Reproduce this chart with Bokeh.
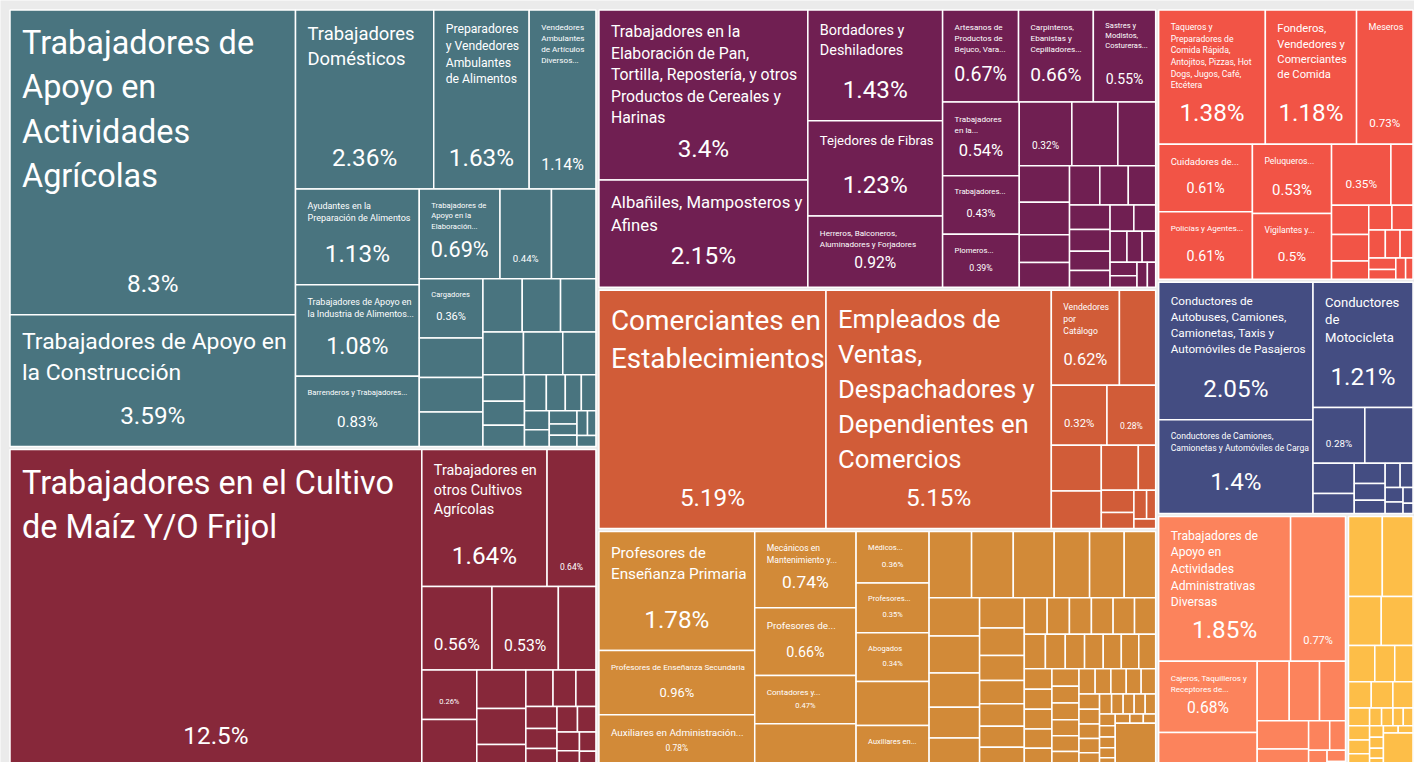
import math
from bokeh.plotting import figure
from bokeh.models import ColumnDataSource, Range1d
from bokeh.core.properties import value
from bokeh.embed import file_html
from bokeh.resources import INLINE

# ----------------------------------------------------------------- data
# Each group: tile names (None = no label, "" = only the percentage) and values (% of total)
TEAL_NAMES = [
    "Trabajadores de Apoyo en Actividades Agrícolas",
    "Trabajadores de Apoyo en la Construcción",
    "Trabajadores Domésticos",
    "Preparadores y Vendedores Ambulantes de Alimentos",
    "Vendedores Ambulantes de Artículos Diversos...",
    "Ayudantes en la Preparación de Alimentos",
    "Trabajadores de Apoyo en la Industria de Alimentos...",
    "Barrenderos y Trabajadores...",
    "Trabajadores de Apoyo en la Elaboración...",
    "",
    None,
    "Cargadores",
]
TEAL_VALUES = [8.3, 3.59, 2.36, 1.63, 1.14, 1.13, 1.08, 0.83, 0.69, 0.44, 0.38, 0.36,
               0.24, 0.21, 0.21, 0.2, 0.195, 0.18, 0.165, 0.16, 0.135, 0.105, 0.095, 0.085,
               0.075, 0.065, 0.055, 0.05, 0.045, 0.04, 0.035, 0.03, 0.03, 0.025, 0.02, 0.02]

MAROON_NAMES = [
    "Trabajadores en el Cultivo de Maíz Y/O Frijol",
    "Trabajadores en otros Cultivos Agrícolas",
    "", "", "", None, "",
]
MAROON_VALUES = [12.5, 1.64, 0.64, 0.56, 0.53, 0.30, 0.26,
                 0.25, 0.18, 0.17, 0.105, 0.095, 0.08, 0.07, 0.065, 0.06, 0.055, 0.05,
                 0.045, 0.04, 0.035, 0.03, 0.025]

PURPLE_NAMES = [
    "Trabajadores en la Elaboración de Pan, Tortilla, Repostería, y otros Productos de Cereales y Harinas",
    "Albañiles, Mamposteros y Afines",
    "Bordadores y Deshiladores",
    "Tejedores de Fibras",
    "Herreros, Balconeros, Aluminadores y Forjadores",
    "Artesanos de Productos de Bejuco, Vara...",
    "Carpinteros, Ebanistas y Cepilladores...",
    "Sastres y Modistos, Costureras...",
    "Trabajadores en la...",
    "Trabajadores...",
    "Plomeros...",
    "",
]
PURPLE_VALUES = [3.4, 2.15, 1.43, 1.23, 0.92, 0.67, 0.66, 0.55, 0.54, 0.43, 0.39, 0.32,
                 0.28, 0.23, 0.176, 0.157, 0.133, 0.12, 0.114, 0.107, 0.103, 0.095, 0.085,
                 0.075, 0.065, 0.06, 0.055, 0.05, 0.045, 0.04, 0.035, 0.03, 0.025, 0.02]

COMMERCE_NAMES = [
    "Comerciantes en Establecimientos",
    "Empleados de Ventas, Despachadores y Dependientes en Comercios",
    "Vendedores por Catálogo",
    None, "", "",
]
COMMERCE_VALUES = [5.19, 5.15, 0.62, 0.33, 0.32, 0.28,
                   0.22, 0.18, 0.16, 0.075, 0.07, 0.05, 0.035, 0.025, 0.02]

MUSTARD_NAMES = [
    "Profesores de Enseñanza Primaria",
    "Profesores de Enseñanza Secundaria",
    "Auxiliares en Administración...",
    "Mecánicos en Mantenimiento y...",
    "Profesores de...",
    "Contadores y...",
    None,
    "Médicos...",
    "Profesores...",
    "Abogados",
    None,
    "Auxiliares en...",
]
MUSTARD_VALUES = [1.78, 0.96, 0.78, 0.74, 0.66, 0.47, 0.42, 0.36, 0.35, 0.34, 0.31, 0.29,
                  0.27, 0.265, 0.26, 0.225, 0.22, 0.2,
                  0.185, 0.18, 0.165, 0.15, 0.14,
                  0.13, 0.118, 0.107, 0.1, 0.096, 0.09, 0.085,
                  0.08, 0.078, 0.077, 0.076, 0.075, 0.074,
                  0.07, 0.066, 0.064, 0.062, 0.06, 0.058, 0.056,
                  0.054, 0.053, 0.052, 0.051, 0.05,
                  0.045, 0.044, 0.043, 0.042, 0.041, 0.04,
                  0.039, 0.038, 0.037, 0.036, 0.035,
                  0.03, 0.029, 0.029, 0.028, 0.028,
                  0.023, 0.022, 0.021, 0.021, 0.02,
                  0.018, 0.017, 0.016, 0.015, 0.014, 0.013, 0.012, 0.011,
                  0.17]

RED_NAMES = [
    "Taqueros y Preparadores de Comida Rápida, Antojitos, Pizzas, Hot Dogs, Jugos, Café, Etcétera",
    "Fonderos, Vendedores y Comerciantes de Comida",
    "Meseros",
    "Cuidadores de...",
    "Policías y Agentes...",
    "Peluqueros...",
    "Vigilantes y...",
    "",
]
RED_VALUES = [1.38, 1.18, 0.73, 0.61, 0.61, 0.53, 0.5, 0.35,
              0.13, 0.105, 0.095, 0.065, 0.055, 0.05, 0.045, 0.04, 0.035, 0.03, 0.025, 0.02, 0.015]

NAVY_NAMES = [
    "Conductores de Autobuses, Camiones, Camionetas, Taxis y Automóviles de Pasajeros",
    "Conductores de Camiones, Camionetas y Automóviles de Carga",
    "Conductores de Motocicleta",
    "",
]
NAVY_VALUES = [2.05, 1.4, 1.21, 0.28, 0.26, 0.12, 0.08, 0.06, 0.05, 0.04, 0.035, 0.03,
               0.025, 0.02, 0.015, 0.01]

SALMON_NAMES = [
    "Trabajadores de Apoyo en Actividades Administrativas Diversas",
    "",
    "Cajeros, Taquilleros y Receptores de...",
    None,
]
SALMON_VALUES = [1.85, 0.77, 0.68, 0.33, 0.185, 0.175, 0.15, 0.14, 0.09, 0.06, 0.045, 0.03,
                 0.02, 0.01]

YELLOW_NAMES = []
YELLOW_VALUES = [0.27, 0.245, 0.16, 0.155, 0.095, 0.072, 0.066, 0.06, 0.057, 0.053, 0.037,
                 0.03, 0.029, 0.028, 0.021, 0.02, 0.018, 0.017, 0.016, 0.015, 0.014,
                 0.012, 0.011, 0.011, 0.1]

GROUPS = [
    (TEAL_NAMES, TEAL_VALUES),
    (MAROON_NAMES, MAROON_VALUES),
    (PURPLE_NAMES, PURPLE_VALUES),
    (COMMERCE_NAMES, COMMERCE_VALUES),
    (MUSTARD_NAMES, MUSTARD_VALUES),
    (RED_NAMES, RED_VALUES),
    (NAVY_NAMES, NAVY_VALUES),
    (SALMON_NAMES, SALMON_VALUES),
    (YELLOW_NAMES, YELLOW_VALUES),
]

# ----------------------------------------------------------------- style
GROUP_COLORS = ["#49747f", "#87283a", "#701f52", "#d15c38", "#d28a38",
                "#f25446", "#444d82", "#fc835c", "#fdbe48"]
BG = "#ebebeb"
FONT = "Roboto"
FONT_SCALE = 0.9       # Roboto is wider than the condensed face of the original
MARGIN = 8
CHART_W, CHART_H = 1406, 760   # the treemap runs slightly past the bottom of the window
VIEW_H = 754
GAP = 1.5
LH = 1.23
PHI = (1 + 5 ** 0.5) / 2


def squarify(values, x0, y0, x1, y1, ratio=PHI):
    """d3.treemapSquarify"""
    rects = [None] * len(values)
    n = len(values)
    i0 = i1 = 0
    total = float(sum(values))
    while i0 < n:
        dx, dy = x1 - x0, y1 - y0
        sumv = values[i1]
        i1 += 1
        minv = maxv = sumv
        alpha = max(dy / dx, dx / dy) / (total * ratio)
        beta = sumv * sumv * alpha
        minr = max(maxv / beta, beta / minv)
        while i1 < n:
            nv = values[i1]
            sumv += nv
            minv = min(minv, nv)
            maxv = max(maxv, nv)
            beta = sumv * sumv * alpha
            newr = max(maxv / beta, beta / minv)
            if newr > minr:
                sumv -= nv
                break
            minr = newr
            i1 += 1
        if dx < dy:
            yy = y0 + dy * sumv / total if i1 < n else y1
            xx = x0
            for k in range(i0, i1):
                w = (x1 - x0) * values[k] / sumv
                rects[k] = (xx, y0, xx + w, yy)
                xx += w
            y0 = yy
        else:
            xx = x0 + dx * sumv / total if i1 < n else x1
            yy = y0
            for k in range(i0, i1):
                h = (y1 - y0) * values[k] / sumv
                rects[k] = (x0, yy, xx, yy + h)
                yy += h
            x0 = xx
        total -= sumv
        i0 = i1
    return rects


# approximate advance widths (1/1000 em) used to wrap the labels
_W = {}
for _c, _w in zip("abcdefghijklmnopqrstuvwxyz",
                  [556, 556, 500, 556, 556, 278, 556, 556, 222, 222, 500, 222, 833,
                   556, 556, 556, 556, 333, 500, 278, 556, 500, 722, 500, 500, 500]):
    _W[_c] = _w
for _c, _w in zip("ABCDEFGHIJKLMNOPQRSTUVWXYZ",
                  [667, 667, 722, 722, 667, 611, 778, 722, 278, 500, 667, 556, 833,
                   722, 778, 667, 778, 722, 667, 611, 722, 667, 944, 667, 667, 611]):
    _W[_c] = _w
for _a, _b in zip("áéíóúñÁÉÍÓÚÑ", "aeiounAEIOUN"):
    _W[_a] = _W[_b]
_W.update({" ": 278, ",": 278, ".": 278, "/": 278, "%": 889})


def measure(s, fs):
    return sum(_W.get(c, 556) for c in s) / 1000.0 * 0.82 * 1.03 * fs


def wrap(text, fs, maxw, force=False):
    lines, cur = [], ""
    for word in text.split():
        if not force and measure(word, fs) > maxw:
            return None
        t = (cur + " " + word) if cur else word
        if measure(t, fs) <= maxw or not cur:
            cur = t
        else:
            lines.append(cur)
            cur = word
    if cur:
        lines.append(cur)
    return lines


def fit_title(text, w, h, avail_h):
    maxw = w - 24
    fs = min(36.0, math.floor(2 * math.sqrt(w * h) / 7.5) / 2)
    while fs >= 8:
        lines = wrap(text, fs, maxw)
        if lines and len(lines) * fs * LH <= avail_h:
            return fs, lines
        fs -= 0.5
    fs = 8.0
    lines = wrap(text, fs, maxw, force=True)
    nmax = max(1, int(avail_h // (fs * LH)))
    if len(lines) > nmax:
        lines = lines[:nmax]
        lines[-1] = lines[-1].rstrip(".,") + "..."
    return fs, lines


def fmt(v):
    return "%s%%" % ("%.3g" % v)


def px(fs):
    return "%.1fpx" % max(7.5, fs * FONT_SCALE)


# ----------------------------------------------------------------- layout
totals = [sum(v) for _, v in GROUPS]
group_rects = squarify(totals, 0, 0, CHART_W, CHART_H)

quad = dict(l=[], r=[], t=[], b=[], c=[])
ttl = dict(x=[], y=[], text=[], fs=[])
val = dict(x=[], y=[], text=[], fs=[])

for (names, values), color, (gx0, gy0, gx1, gy1) in zip(GROUPS, GROUP_COLORS, group_rects):
    rects = squarify(values, gx0 + GAP, gy0 + GAP, gx1 - GAP, gy1 - GAP)
    for i, (v, (x0, y0, x1, y1)) in enumerate(zip(values, rects)):
        quad["l"].append(x0); quad["r"].append(x1)
        quad["t"].append(y0); quad["b"].append(y1)
        quad["c"].append(color)
        name = names[i] if i < len(names) else None
        if name is None:
            continue
        w, h = x1 - x0, y1 - y0
        fsv = None
        if w >= 45 and h >= 45:
            fsv = max(8.0, min(27.0, 0.42 * (h - 30), (w - 28) / 2.2))
            val["x"].append((x0 + x1) / 2)
            val["y"].append(y1 - (0.7 * fsv + 12.5))
            val["text"].append(fmt(v))
            val["fs"].append(px(fsv))
        if name:
            if fsv:
                avail_h = h - 11 - (1.3 * fsv + 15.5)
            else:
                avail_h = h - 16
            fs, lines = fit_title(name, w, h, avail_h)
            lh = fs * LH
            for j, line in enumerate(lines):
                ttl["x"].append(x0 + 12)
                ttl["y"].append(y0 + 11 + lh * (j + 0.5))
                ttl["text"].append(line)
                ttl["fs"].append(px(fs))

# ----------------------------------------------------------------- plot
p = figure(width=CHART_W + MARGIN, height=VIEW_H + MARGIN,
           x_range=Range1d(-MARGIN, CHART_W), y_range=Range1d(VIEW_H, -MARGIN),
           output_backend="svg", toolbar_location=None, min_border=0,
           x_axis_type=None, y_axis_type=None)
p.grid.visible = False
p.outline_line_color = None
p.background_fill_color = BG
p.border_fill_color = BG

p.quad(left="l", right="r", top="t", bottom="b", fill_color="c", line_color="white",
       line_width=1.5, source=ColumnDataSource(quad))
p.text(x="x", y="y", text="text", text_font_size="fs", text_font=value(FONT),
       text_color="white", text_align="left", text_baseline="middle",
       source=ColumnDataSource(ttl))
p.text(x="x", y="y", text="text", text_font_size="fs", text_font=value(FONT),
       text_color="white", text_align="center", text_baseline="middle",
       source=ColumnDataSource(val))

html = file_html(p, INLINE, title="Treemap")
html = html.replace("<body>", '<body style="background-color:%s;">' % BG, 1)
open("out.html", "w").write(html)
